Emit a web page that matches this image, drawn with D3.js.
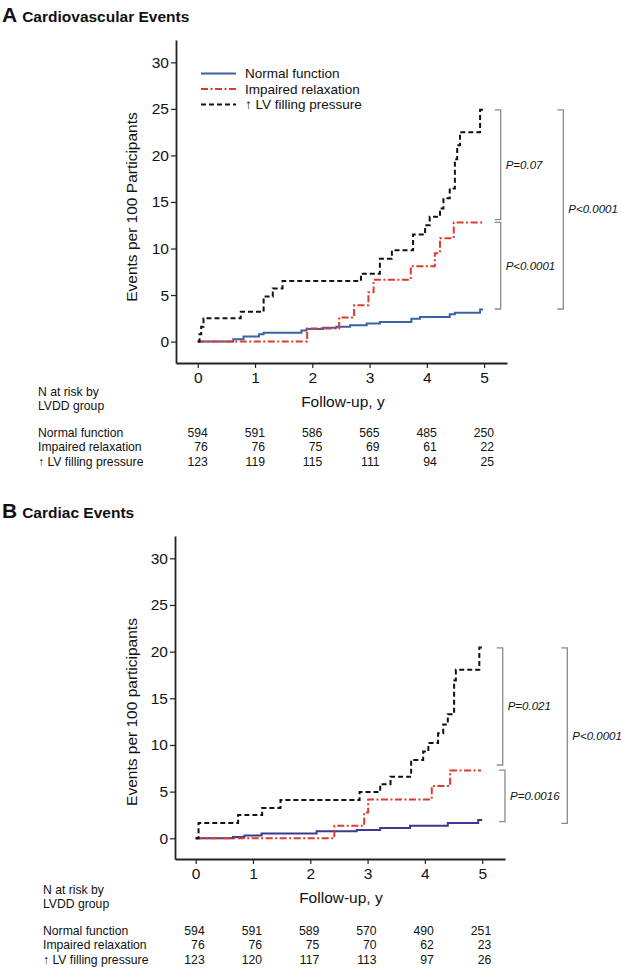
<!DOCTYPE html>
<html><head><meta charset="utf-8">
<script src="https://cdn.jsdelivr.net/npm/d3@7"></script>
<style>
body{margin:0;background:#fff;}
text{font-family:"Liberation Sans",Arial,sans-serif;}
</style></head>
<body><svg id="c" width="622" height="969"></svg>
<script>
// ---------- DATA ----------
const groups = ["Normal function", "Impaired relaxation", "\u2191 LV filling pressure"];
const xTicks = [0,1,2,3,4,5];
const yTicks = [0,5,10,15,20,25,30];

// Panel A: cardiovascular events (step points [year, events per 100])
const A_normal = [[0,0],[0.62,0.25],[0.8,0.55],[1.07,0.8],[1.15,0.95],[1.81,1.2],[1.9,1.35],[2.19,1.5],[2.42,1.6],[2.66,1.75],[2.95,1.95],[3.18,2.1],[3.73,2.45],[3.88,2.65],[4.4,2.95],[4.49,3.1],[4.93,3.45],[4.98,3.45]];
const A_impaired = [[0,0],[1.91,1.4],[2.47,2.6],[2.73,3.9],[2.98,5.3],[3.07,6.65],[3.72,8.1],[4.14,9.5],[4.23,11.1],[4.47,12.8],[4.98,12.8]];
const A_filling = [[0,0],[0.03,0.8],[0.06,1.6],[0.1,2.5],[0.75,3.2],[1.15,4.85],[1.31,5.7],[1.48,6.5],[2.85,7.3],[3.18,8.9],[3.39,9.8],[3.76,11.5],[3.97,12.5],[4.05,13.4],[4.23,14.3],[4.29,15.4],[4.4,16.45],[4.49,19.6],[4.53,21.1],[4.58,22.5],[4.93,24.9],[4.98,24.9]];
const A_risk = [[594,591,586,565,485,250],[76,76,75,69,61,22],[123,119,115,111,94,25]];
const A_pvals = ["P=0.07","P<0.0001","P<0.0001"];
const A_brackets = [[24.9,13.1],[12.8,3.5],[24.9,3.5]];

// Panel B: cardiac events
const B_normal = [[0,0],[0.65,0.15],[0.85,0.3],[1.15,0.52],[2.11,0.75],[2.81,0.88],[3.22,1.1],[3.74,1.33],[4.4,1.65],[4.93,1.95],[5.0,1.95]];
const B_impaired = [[0,0],[2.42,1.33],[2.94,2.75],[3.01,4.15],[4.12,5.6],[4.44,7.25],[4.98,7.25]];
const B_filling = [[0,0],[0.05,1.65],[0.74,2.5],[1.16,3.25],[1.48,4.1],[2.86,4.95],[3.22,5.8],[3.4,6.6],[3.76,8.4],[3.97,9.3],[4.06,10.2],[4.23,11.25],[4.32,12.2],[4.4,13.3],[4.51,16.9],[4.54,18.05],[4.95,20.45],[5.0,20.45]];
const B_risk = [[594,591,589,570,490,251],[76,76,75,70,62,23],[123,120,117,113,97,26]];
const B_pvals = ["P=0.021","P=0.0016","P<0.0001"];
const B_brackets = [[20.4,7.85],[7.3,1.78],[20.4,1.6]];

// ---------- DRAW ----------
const svg = d3.select("#c");
const dashes = [null, "7,2.5,2,2.5", "5,3"];

function panel(o){
  const g = svg.append("g");
  const x = d3.scaleLinear().domain(o.xDom).range(o.xRange);
  const y = d3.scaleLinear().domain(o.yDom).range(o.yRange);
  // title
  const t = g.append("text").attr("x",2).attr("y",o.titleY).attr("font-weight","bold").attr("fill","#111");
  t.append("tspan").attr("font-size",21).text(o.letter);
  t.append("tspan").attr("font-size",15.5).attr("dx",5).text(o.title);
  // axes
  const yAx = g.append("g").attr("transform",`translate(${o.xRange[0]},0)`)
    .call(d3.axisLeft(y).tickValues(yTicks).tickFormat(d3.format("d")).tickSize(5).tickPadding(2).tickSizeOuter(0));
  const xAx = g.append("g").attr("transform",`translate(0,${o.yRange[0]})`)
    .call(d3.axisBottom(x).tickValues(xTicks).tickFormat(d3.format("d")).tickSize(5).tickPadding(4).tickSizeOuter(0));
  [yAx,xAx].forEach(a=>{
    a.select(".domain").attr("stroke","#222").attr("stroke-width",1.8);
    a.selectAll(".tick line").attr("stroke","#222").attr("stroke-width",1.2);
    a.selectAll("text").attr("font-size",15.5).attr("fill","#111").attr("font-family","Liberation Sans, Arial, sans-serif");
  });
  g.append("text").attr("transform",`translate(${o.yLabX},${o.yLabY}) rotate(-90)`)
    .attr("text-anchor","middle").attr("font-size",15.5).attr("fill","#111").text(o.yLabel);
  g.append("text").attr("x",(x(0)+x(5))/2+2).attr("y",o.xLabY).attr("text-anchor","middle")
    .attr("font-size",15.5).attr("fill","#111").text("Follow-up, y");
  // curves
  const line = d3.line().x(d=>x(d[0])).y(d=>y(d[1])).curve(d3.curveStepAfter);
  o.series.forEach((s,i)=>{
    g.append("path").datum(s).attr("d",line).attr("fill","none")
      .attr("stroke",o.colors[i]).attr("stroke-width",2)
      .attr("stroke-dasharray",dashes[i]);
  });
  // legend
  if(o.legend){
    groups.forEach((gname,i)=>{
      const ly = o.legend.y + i*15.5;
      g.append("line").attr("x1",o.legend.x).attr("x2",o.legend.x+35).attr("y1",ly).attr("y2",ly)
        .attr("stroke",o.colors[i]).attr("stroke-width",1.8).attr("stroke-dasharray",dashes[i]);
      g.append("text").attr("x",o.legend.x+44).attr("y",ly+4.5).attr("font-size",13.5).attr("fill","#111").text(gname);
    });
  }
  // brackets
  o.brackets.forEach((b,i)=>{
    const bx = o.bracketX[i];
    const y1 = y(b[0]), y2 = y(b[1]);
    g.append("path").attr("d",`M${bx-6},${y1}H${bx}V${y2}H${bx-6}`)
      .attr("fill","none").attr("stroke","#8a8a8a").attr("stroke-width",1.3);
    g.append("text").attr("x",bx+5).attr("y",(y1+y2)/2+4).attr("font-size",11.5)
      .attr("font-style","italic").attr("fill","#111").attr("textLength",null).text(o.pvals[i]);
  });
  // risk table
  const fs = 12.2;
  g.append("text").attr("x",o.tabX).attr("y",o.tabY).attr("font-size",fs).attr("fill","#111").text("N at risk by");
  g.append("text").attr("x",o.tabX).attr("y",o.tabY+14).attr("font-size",fs).attr("fill","#111").text("LVDD group");
  groups.forEach((gname,i)=>{
    const ry = o.rowY + i*14.3;
    g.append("text").attr("x",o.tabX).attr("y",ry).attr("font-size",fs).attr("fill","#111").text(gname);
    o.risk[i].forEach((v,j)=>{
      g.append("text").attr("x",x(xTicks[j])+o.numOff).attr("y",ry).attr("text-anchor","end")
        .attr("font-size",fs).attr("fill","#111").text(v);
    });
  });
}

panel({
  letter:"A", title:"Cardiovascular Events", titleY:22,
  xDom:[-0.38,5.40], xRange:[176,507], yDom:[-2.3,32.4], yRange:[363,40],
  yLabel:"Events per 100 Participants", yLabX:137, yLabY:207, xLabY:407,
  series:[A_normal,A_impaired,A_filling], colors:["#3b62a6","#e03a2c","#111111"],
  legend:{x:201,y:73.5},
  brackets:A_brackets, bracketX:[500.7,500.7,563.3], pvals:A_pvals,
  risk:A_risk, tabX:38, tabY:396, rowY:437, numOff:10
});
panel({
  letter:"B", title:"Cardiac Events", titleY:518,
  xDom:[-0.361,5.398], xRange:[175,505], yDom:[-2.22,32.39], yRange:[859,536],
  yLabel:"Events per 100 participants", yLabX:137, yLabY:712, xLabY:903,
  series:[B_normal,B_impaired,B_filling], colors:["#3c3a8e","#e03a2c","#111111"],
  legend:null,
  brackets:B_brackets, bracketX:[502.7,505,567.3], pvals:B_pvals,
  risk:B_risk, tabX:43, tabY:894, rowY:935, numOff:9
});
</script></body></html>
